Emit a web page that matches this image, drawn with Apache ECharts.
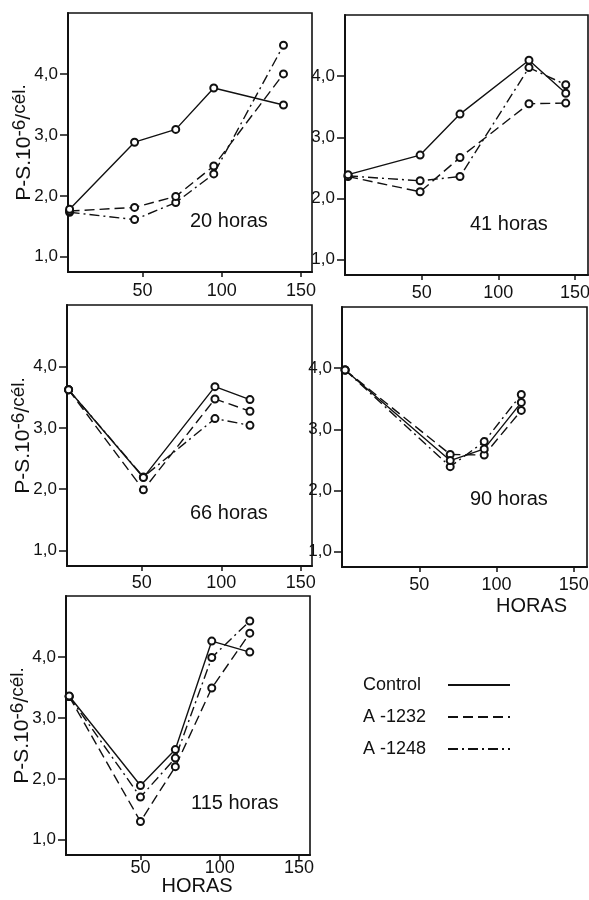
<!DOCTYPE html>
<html>
<head>
<meta charset="utf-8">
<script src="https://cdn.jsdelivr.net/npm/echarts@6/dist/echarts.min.js"></script>
<style>html,body{margin:0;padding:0;background:#fff;overflow:hidden}#c{width:589px;height:900px}</style>
</head>
<body>
<div id="c"></div>
<script>
// ---- data ----
const seriesNames = ['Control', 'A -1232', 'A -1248'];
const panelLabels = ['20 horas', '41 horas', '66 horas', '90 horas', '115 horas'];
const xTickValues = [50, 100, 150];
const yTickValues = [1, 2, 3, 4];

const x20 = [4, 45, 71, 95, 139];
const ctrl20 = [1.78, 2.88, 3.09, 3.77, 3.49];
const a1232_20 = [1.75, 1.81, 1.99, 2.49, 4.00];
const a1248_20 = [1.73, 1.61, 1.89, 2.36, 4.47];

const x41 = [2, 49, 75, 120, 144];
const ctrl41 = [2.39, 2.71, 3.38, 4.26, 3.72];
const a1232_41 = [2.36, 2.11, 2.67, 3.55, 3.56];
const a1248_41 = [2.37, 2.29, 2.36, 4.14, 3.86];

const x66 = [4, 51, 96, 118];
const ctrl66 = [3.62, 2.19, 3.67, 3.46];
const a1232_66 = [3.62, 1.99, 3.47, 3.27];
const a1248_66 = [3.62, 2.20, 3.15, 3.04];

const x90 = [2, 70, 92, 116];
const ctrl90 = [3.97, 2.49, 2.68, 3.44];
const a1232_90 = [3.97, 2.59, 2.58, 3.31];
const a1248_90 = [3.97, 2.39, 2.80, 3.57];

const x115 = [5, 50, 72, 95, 119];
const ctrl115 = [3.36, 1.89, 2.48, 4.26, 4.08];
const a1232_115 = [3.35, 1.30, 2.20, 3.49, 4.39];
const a1248_115 = [3.35, 1.70, 2.34, 3.99, 4.59];

// ---- layout / style ----
const FONT = "'Liberation Sans', Arial, Helvetica, sans-serif";
const INK = '#111';
const panels = [
  { x: x20, s: [ctrl20, a1232_20, a1248_20], grid: {left: 68, top: 13, width: 244, height: 259}, xmin: 3, xmax: 157, yName: true, xName: false, lblMargin: 10, title: {left: 190, top: 211} },
  { x: x41, s: [ctrl41, a1232_41, a1248_41], grid: {left: 345, top: 15, width: 243, height: 260}, xmin: 0, xmax: 158.5, yName: false, xName: false, lblMargin: 9, title: {left: 470, top: 214} },
  { x: x66, s: [ctrl66, a1232_66, a1248_66], grid: {left: 67, top: 305, width: 245, height: 261}, xmin: 3, xmax: 157, yName: true, xName: false, lblMargin: 8, title: {left: 190, top: 503} },
  { x: x90, s: [ctrl90, a1232_90, a1248_90], grid: {left: 342, top: 307, width: 245, height: 260}, xmin: 0, xmax: 158.5, yName: false, xName: true, lblMargin: 9, nameGap: 29, namePad: 134, title: {left: 470, top: 489} },
  { x: x115, s: [ctrl115, a1232_115, a1248_115], grid: {left: 66, top: 596, width: 244, height: 259}, xmin: 3, xmax: 157, yName: true, xName: true, lblMargin: 4, nameGap: 21, namePad: 18, title: {left: 191, top: 793} }
];
const lineTypes = ['solid', [10, 5], [10, 4, 2, 4]];

const option = {
  animation: false,
  backgroundColor: '#fff',
  textStyle: { fontFamily: FONT, color: INK },
  title: panels.map((p, i) => ({
    text: panelLabels[i], left: p.title.left, top: p.title.top, padding: 0,
    textStyle: { fontFamily: FONT, fontSize: 20, fontWeight: 'normal', color: INK }
  })),
  legend: {
    orient: 'vertical', left: 363, top: 676, align: 'right', padding: 0,
    itemWidth: 62, itemHeight: 12, itemGap: 14,
    itemStyle: { opacity: 0 },
    lineStyle: { width: 1.8 },
    formatter: name => '{t|' + name + '}',
    textStyle: { fontFamily: FONT, fontSize: 18, color: INK,
      rich: { t: { fontFamily: FONT, fontSize: 18, color: INK, width: 80, align: 'left' } } },
    data: seriesNames
  },
  grid: panels.map(p => Object.assign({ show: true, borderColor: INK, borderWidth: 1.6, outerBoundsMode: 'none', containLabel: false }, p.grid)),
  xAxis: panels.map((p, i) => ({
    type: 'value', gridIndex: i, min: p.xmin, max: p.xmax,
    name: p.xName ? 'HORAS' : '', nameLocation: 'middle', nameGap: p.nameGap || 0, nameMoveOverlap: false,
    nameTextStyle: { fontFamily: FONT, fontSize: 20, color: INK, padding: [0, 0, 0, p.namePad || 0] },
    axisLine: { show: true, lineStyle: { color: INK, width: 2 } },
    axisTick: { show: true, inside: false, length: 5, customValues: xTickValues, lineStyle: { color: INK, width: 1.5 } },
    axisLabel: { customValues: xTickValues, margin: p.lblMargin, fontFamily: FONT, fontSize: 18, color: INK },
    splitLine: { show: false }
  })),
  yAxis: panels.map((p, i) => ({
    type: 'value', gridIndex: i, min: 0.75, max: 5.0,
    name: p.yName ? '{n|P-S.10}{s|-6}{n|/}{s|cél.}' : '', nameLocation: 'middle', nameGap: 30, nameMoveOverlap: false,
    nameTextStyle: { fontFamily: FONT, fontSize: 21, color: INK,
      rich: {
        n: { fontFamily: FONT, fontSize: 21, color: INK },
        s: { fontFamily: FONT, fontSize: 19, color: INK, padding: [0, 0, 9, 0] }
      } },
    axisLine: { show: true, lineStyle: { color: INK, width: 2 } },
    axisTick: { show: true, inside: false, length: 8, customValues: yTickValues, lineStyle: { color: INK, width: 1.5 } },
    axisLabel: { customValues: yTickValues, margin: 10, fontFamily: FONT, fontSize: 17, color: INK,
      formatter: v => v.toFixed(1).replace('.', ',') },
    splitLine: { show: false }
  })),
  series: []
};

panels.forEach((p, i) => {
  p.s.forEach((vals, k) => {
    option.series.push({
      name: seriesNames[k], type: 'line', xAxisIndex: i, yAxisIndex: i,
      data: p.x.map((xv, j) => [xv, vals[j]]),
      symbol: 'emptyCircle', symbolSize: 7,
      itemStyle: { color: INK, borderColor: INK, borderWidth: 1.2 },
      lineStyle: { color: INK, width: 1.4, type: lineTypes[k] },
      z: 3 - k
    });
  });
});

const chart = echarts.init(document.getElementById('c'), null, { renderer: 'canvas' });
chart.setOption(option);
</script>
</body>
</html>
